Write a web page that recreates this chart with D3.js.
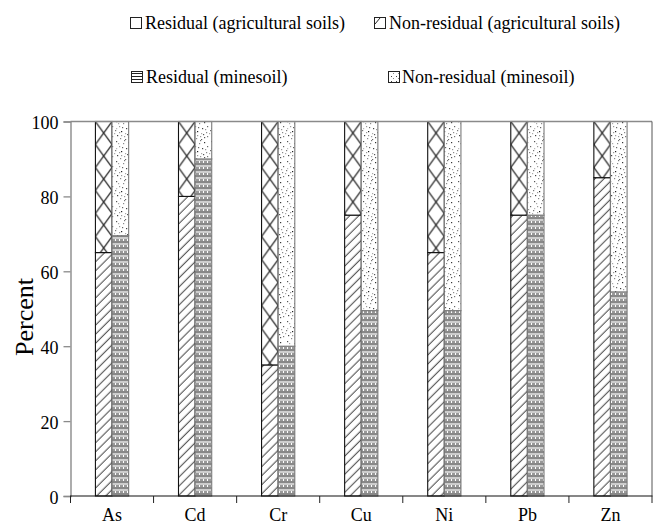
<!DOCTYPE html>
<html>
<head>
<meta charset="utf-8">
<script src="https://cdn.jsdelivr.net/npm/d3@7"></script>
<style>
  body { margin: 0; background: #fff; }
  svg { display: block; }
  text { font-family: "Liberation Serif", "Times New Roman", serif; fill: #000; }
</style>
</head>
<body>
<svg id="chart" width="654" height="525"></svg>
<script>
// Metal fractions (percent) in agricultural soils and minesoil
const categories = ["As", "Cd", "Cr", "Cu", "Ni", "Pb", "Zn"];
const residualAgri = [65, 80, 35, 75, 65, 75, 85];
const residualMine = [69.5, 90, 40, 49.5, 49.5, 75, 54.5];
const yTicks = [0, 20, 40, 60, 80, 100];
const legendLabels = [
  "Residual (agricultural soils)",
  "Non-residual (agricultural soils)",
  "Residual (minesoil)",
  "Non-residual (minesoil)"
];

const svg = d3.select("#chart");
const plotL = 70.5, plotR = 652, plotT = 121.5, plotB = 496;

const x = d3.scaleBand().domain(categories).range([plotL, plotR])
  .paddingInner(0.6).paddingOuter(0.3);
const y = d3.scaleLinear().domain([0, 100]).range([plotB, plotT]);
const step = x.step();
const barW = x.bandwidth() / 2;

// ---- fill patterns ----
const defs = svg.append("defs");

// diagonal hatch for residual (agricultural)
const diag = defs.append("pattern").attr("id", "diag")
  .attr("patternUnits", "userSpaceOnUse").attr("width", 6.4).attr("height", 10)
  .attr("patternTransform", "rotate(45)");
diag.append("rect").attr("width", 6.4).attr("height", 10).attr("fill", "#fff");
diag.append("line").attr("x1", 3).attr("x2", 3).attr("y1", 0).attr("y2", 10)
  .attr("stroke", "#222").attr("stroke-width", 0.9);

// large cross-hatch for non-residual (agricultural), aligned to the bars
const cross = defs.append("pattern").attr("id", "cross")
  .attr("patternUnits", "userSpaceOnUse")
  .attr("x", x(categories[0])).attr("y", plotT)
  .attr("width", barW).attr("height", 23);
cross.append("rect").attr("width", barW).attr("height", 23).attr("fill", "#fff");
cross.append("path")
  .attr("d", `M0,0L${barW},23M${barW},0L0,23`)
  .attr("stroke", "#111").attr("stroke-width", 1.1).attr("fill", "none");

// ruled lines for residual (minesoil)
const hl = defs.append("pattern").attr("id", "hlines")
  .attr("patternUnits", "userSpaceOnUse").attr("y", plotT)
  .attr("width", 4).attr("height", 6);
hl.append("rect").attr("width", 4).attr("height", 6).attr("fill", "#fff");
hl.append("rect").attr("y", 0).attr("width", 4).attr("height", 1).attr("fill", "#111");
hl.append("rect").attr("y", 2).attr("width", 4).attr("height", 1).attr("fill", "#9a9a9a");
hl.append("rect").attr("y", 4).attr("width", 3).attr("height", 1).attr("fill", "#333");

// stipple for non-residual (minesoil)
const stippleDots = [
  [2, 1, "#555"], [9, 3, "#888"], [14, 2, "#333"], [5, 6, "#999"], [12, 8, "#444"],
  [1, 10, "#777"], [7, 11, "#222"], [16, 12, "#888"], [3, 15, "#444"], [10, 16, "#999"],
  [14, 17, "#555"], [6, 18, "#888"], [17, 6, "#666"], [11, 13, "#aaa"], [4, 3, "#aaa"],
  [8, 7, "#666"], [15, 9, "#999"], [0, 13, "#aaa"], [13, 14, "#555"], [7, 15, "#999"],
  [17, 16, "#777"], [10, 0, "#777"], [2, 8, "#bbb"], [11, 19, "#666"], [5, 12, "#999"]
];
const dots = defs.append("pattern").attr("id", "dots")
  .attr("patternUnits", "userSpaceOnUse").attr("width", 19).attr("height", 20);
dots.append("rect").attr("width", 19).attr("height", 20).attr("fill", "#fff");
dots.selectAll("rect.d").data(stippleDots).join("rect").attr("class", "d")
  .attr("x", d => d[0]).attr("y", d => d[1]).attr("width", 1.2).attr("height", 1.2)
  .attr("fill", d => d[2]);

// ---- stacked bars ----
const rows = categories.map((c, i) => ({ c, ra: residualAgri[i], rm: residualMine[i] }));
const g = svg.append("g");

const bars = [];
rows.forEach(r => {
  const x0 = x(r.c);
  bars.push({ x: x0, y0: 0, y1: r.ra, fill: "url(#diag)", stroke: "#111" });
  bars.push({ x: x0, y0: r.ra, y1: 100, fill: "url(#cross)", stroke: "#111" });
  bars.push({ x: x0 + barW, y0: 0, y1: r.rm, fill: "url(#hlines)", stroke: "#7a7a7a" });
  bars.push({ x: x0 + barW, y0: r.rm, y1: 100, fill: "url(#dots)", stroke: "#7a7a7a" });
});
g.selectAll("rect.bar").data(bars).join("rect").attr("class", "bar")
  .attr("x", d => d.x).attr("width", barW)
  .attr("y", d => y(d.y1)).attr("height", d => y(d.y0) - y(d.y1))
  .attr("fill", d => d.fill).attr("stroke", d => d.stroke).attr("stroke-width", 1.1);

// ---- frame and axes ----
svg.append("line").attr("x1", plotL).attr("x2", plotR).attr("y1", plotT).attr("y2", plotT)
  .attr("stroke", "#8a8a8a").attr("stroke-width", 1.3);
svg.append("line").attr("x1", plotR).attr("x2", plotR).attr("y1", plotT).attr("y2", plotB)
  .attr("stroke", "#555").attr("stroke-width", 1);

const yAxis = svg.append("g").attr("transform", `translate(${plotL},0)`)
  .call(d3.axisLeft(y).tickValues(yTicks).tickSize(7).tickPadding(5).tickFormat(d3.format("d")));
yAxis.select(".domain").attr("stroke", "#8a8a8a").attr("stroke-width", 1.4);
yAxis.selectAll(".tick line").attr("stroke", "#8a8a8a").attr("stroke-width", 1.3);
yAxis.selectAll(".tick text").attr("font-size", 18)
  .attr("font-family", "Liberation Serif, serif").attr("fill", "#000").attr("dy", "0.4em");

// x axis: boundary ticks between categories, labels centred in each band
const boundaries = d3.range(categories.length + 1).map(i => plotL + i * step);
svg.append("line").attr("x1", plotL - 0.5).attr("x2", plotR + 0.5).attr("y1", plotB).attr("y2", plotB)
  .attr("stroke", "#111").attr("stroke-width", 1.2);
svg.selectAll("line.xt").data(boundaries).join("line").attr("class", "xt")
  .attr("x1", d => d).attr("x2", d => d).attr("y1", plotB).attr("y2", plotB + 7)
  .attr("stroke", "#222").attr("stroke-width", 1);
svg.selectAll("text.xl").data(categories).join("text").attr("class", "xl")
  .attr("x", d => x(d) + barW).attr("y", 520.5).attr("text-anchor", "middle")
  .attr("font-size", 18).text(d => d);

svg.append("text").attr("transform", "translate(33,317) rotate(-90)")
  .attr("text-anchor", "middle").attr("font-size", 26).text("Percent");

// ---- legend ----
const legendPos = [
  { sx: 130, sy: 17, tx: 145, ty: 29 },
  { sx: 374, sy: 17, tx: 389, ty: 29 },
  { sx: 131, sy: 71, tx: 146, ty: 83 },
  { sx: 388, sy: 71, tx: 402, ty: 83 }
];
const legendFill = ["#fff", "#fff", "url(#hlinesL)", "url(#dotsL)"];

const hlL = defs.append("pattern").attr("id", "hlinesL")
  .attr("patternUnits", "userSpaceOnUse").attr("y", 71).attr("width", 4).attr("height", 3);
hlL.append("rect").attr("width", 4).attr("height", 3).attr("fill", "#fff");
hlL.append("rect").attr("y", 2).attr("width", 4).attr("height", 1).attr("fill", "#222");
const dotsL = defs.append("pattern").attr("id", "dotsL")
  .attr("patternUnits", "userSpaceOnUse").attr("width", 5).attr("height", 5);
dotsL.append("rect").attr("width", 5).attr("height", 5).attr("fill", "#fff");
dotsL.append("rect").attr("x", 1).attr("y", 1).attr("width", 1).attr("height", 1).attr("fill", "#444");
dotsL.append("rect").attr("x", 3).attr("y", 3).attr("width", 1).attr("height", 1).attr("fill", "#888");

const lg = svg.append("g");
legendLabels.forEach((lab, i) => {
  const p = legendPos[i];
  lg.append("rect").attr("x", p.sx + 0.5).attr("y", p.sy + 0.5).attr("width", 11).attr("height", 11)
    .attr("fill", legendFill[i]).attr("stroke", "#222").attr("stroke-width", 1);
  if (i === 1) {
    lg.append("path").attr("d", `M${p.sx + 1},${p.sy + 7}L${p.sx + 6},${p.sy + 1}`)
      .attr("stroke", "#222").attr("stroke-width", 1).attr("fill", "none");
  }
  lg.append("text").attr("x", p.tx).attr("y", p.ty).attr("font-size", 18).text(lab);
});
</script>
</body>
</html>
